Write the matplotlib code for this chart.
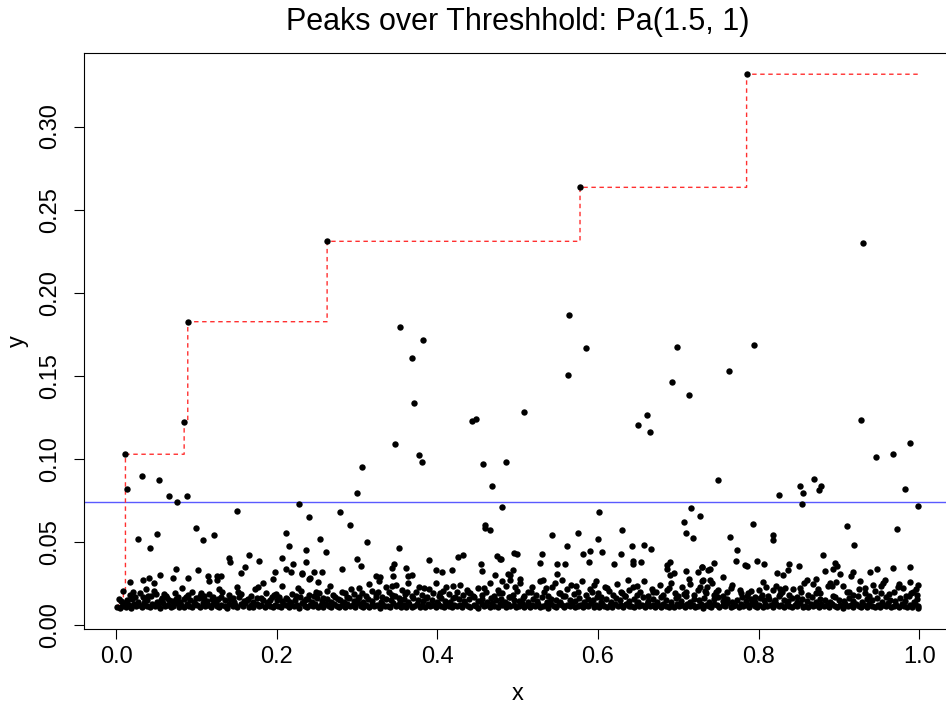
import numpy as np
import matplotlib
matplotlib.use("Agg")
import matplotlib.pyplot as plt

plt.rcParams["font.family"] = ["Liberation Sans", "DejaVu Sans"]

# points; band lists are (x * 1000, y * 10000)
low_band = [
    (1, 107), (5, 104), (7, 113), (10, 131), (12, 109), (16, 118), (19, 104), (22, 127), (25, 112), (29, 121),
    (32, 106), (35, 133), (38, 115), (42, 108), (45, 125), (48, 111), (52, 119), (55, 104), (58, 129), (61, 113),
    (65, 122), (68, 107), (71, 116), (75, 131), (78, 110), (81, 120), (85, 105), (88, 126), (91, 114), (95, 109),
    (98, 123), (101, 117), (105, 106), (108, 130), (111, 112), (115, 120), (118, 105), (121, 127), (125, 113), (128, 108),
    (131, 122), (135, 116), (138, 104), (141, 128), (145, 111), (148, 119), (151, 107), (155, 125), (158, 113), (161, 132),
    (165, 109), (168, 118), (171, 106), (175, 124), (178, 112), (181, 120), (185, 105), (188, 129), (191, 115), (195, 109),
    (198, 122), (201, 113), (205, 106), (208, 127), (211, 117), (215, 108), (218, 124), (221, 111), (225, 119), (228, 104),
    (231, 130), (235, 114), (238, 107), (241, 121), (245, 112), (248, 126), (251, 105), (255, 117), (258, 109), (261, 123),
    (265, 113), (268, 106), (271, 128), (275, 116), (278, 110), (281, 120), (285, 105), (288, 125), (291, 112), (295, 118),
    (298, 107), (301, 131), (305, 114), (308, 109), (311, 122), (315, 106), (318, 127), (321, 113), (325, 119), (328, 104),
    (331, 124), (335, 111), (338, 116), (341, 108), (345, 129), (348, 113), (351, 121), (355, 106), (358, 118), (361, 110),
    (365, 126), (368, 105), (371, 115), (375, 123), (378, 109), (381, 117), (385, 106), (388, 128), (391, 112), (395, 120),
    (398, 107), (401, 124), (405, 114), (408, 109), (411, 130), (415, 116), (418, 105), (421, 122), (425, 111), (428, 119),
    (431, 107), (435, 127), (438, 113), (441, 108), (445, 121), (448, 116), (451, 104), (455, 125), (458, 112), (461, 118),
    (465, 106), (468, 131), (471, 114), (475, 109), (478, 123), (481, 117), (485, 106), (488, 126), (491, 111), (495, 120),
    (498, 108), (501, 115), (505, 129), (508, 110), (511, 122), (515, 105), (518, 118), (521, 112), (525, 125), (528, 107),
    (531, 116), (535, 121), (538, 104), (541, 128), (545, 113), (548, 109), (551, 124), (555, 117), (558, 106), (561, 120),
    (565, 111), (568, 127), (571, 108), (575, 115), (578, 122), (581, 105), (585, 119), (588, 112), (591, 130), (595, 109),
    (598, 117), (601, 106), (605, 124), (608, 114), (611, 110), (615, 121), (618, 107), (621, 126), (625, 113), (628, 118),
    (631, 105), (635, 123), (638, 111), (641, 116), (645, 108), (648, 129), (651, 114), (655, 120), (658, 106), (661, 125),
    (665, 112), (668, 117), (671, 109), (675, 122), (678, 105), (681, 127), (685, 115), (688, 110), (691, 119), (695, 107),
    (698, 124), (701, 113), (705, 118), (708, 106), (711, 128), (715, 111), (718, 121), (721, 108), (725, 116), (728, 125),
    (731, 104), (735, 119), (738, 113), (741, 109), (745, 126), (748, 117), (751, 106), (755, 122), (758, 112), (761, 130),
    (765, 108), (768, 115), (771, 120), (775, 105), (778, 127), (781, 111), (785, 118), (788, 107), (791, 123), (795, 114),
    (798, 109), (801, 121), (805, 106), (808, 128), (811, 113), (815, 117), (818, 105), (821, 124), (825, 111), (828, 119),
    (831, 108), (835, 126), (838, 115), (841, 106), (845, 120), (848, 112), (851, 129), (855, 109), (858, 116), (861, 105),
    (865, 123), (868, 113), (871, 119), (875, 107), (878, 125), (881, 111), (885, 117), (888, 106), (891, 128), (895, 114),
    (898, 109), (901, 121), (905, 104), (908, 126), (911, 112), (915, 118), (918, 107), (921, 124), (925, 113), (928, 110),
    (931, 120), (935, 106), (938, 127), (941, 115), (945, 109), (948, 122), (951, 105), (955, 118), (958, 112), (961, 130),
    (965, 108), (968, 116), (971, 121), (975, 106), (978, 125), (981, 113), (985, 109), (988, 119), (991, 107), (995, 123),
    (998, 111),
]

low_top = [
    (14, 142), (20, 158), (27, 139), (33, 166), (39, 147), (44, 171), (51, 138), (56, 152), (63, 163), (69, 141),
    (74, 156), (80, 137), (87, 168), (92, 149), (97, 140), (103, 160), (109, 173), (113, 144), (119, 154), (124, 139),
    (130, 165), (136, 148), (142, 158), (147, 137), (153, 170), (159, 145), (164, 155), (170, 140), (176, 162), (183, 149),
    (189, 138), (194, 167), (200, 152), (206, 143), (212, 161), (217, 136), (223, 150), (229, 169), (234, 141), (239, 157),
    (244, 138), (250, 163), (256, 146), (262, 156), (267, 137), (273, 168), (279, 148), (284, 140), (290, 159), (296, 145),
    (302, 170), (307, 139), (313, 153), (319, 144), (324, 165), (330, 138), (336, 157), (342, 147), (347, 172), (353, 140),
    (359, 155), (364, 137), (370, 163), (376, 149), (382, 142), (387, 168), (393, 151), (399, 139), (404, 160), (410, 145),
    (416, 137), (422, 166), (427, 153), (433, 141), (439, 158), (444, 172), (450, 143), (456, 155), (462, 138), (467, 164),
    (473, 147), (479, 157), (484, 139), (490, 169), (496, 150), (502, 142), (507, 161), (513, 137), (519, 154), (524, 146),
    (530, 167), (536, 140), (542, 158), (548, 148), (553, 138), (559, 171), (565, 151), (571, 143), (576, 162), (582, 139),
    (588, 156), (594, 147), (599, 166), (604, 140), (610, 153), (616, 137), (622, 160), (627, 149), (633, 172), (639, 142),
    (645, 157), (650, 138), (656, 165), (662, 146), (668, 155), (674, 140), (679, 168), (685, 150), (691, 139), (697, 161),
    (703, 145), (709, 173), (714, 137), (720, 156), (726, 148), (732, 164), (738, 140), (744, 153), (749, 170), (755, 143),
    (761, 158), (767, 138), (773, 149), (779, 166), (784, 141), (790, 155), (796, 137), (802, 163), (807, 147), (813, 158),
    (819, 140), (825, 171), (831, 150), (837, 142), (842, 161), (848, 137), (854, 154), (860, 146), (866, 168), (871, 139),
    (877, 157), (883, 148), (889, 137), (895, 165), (900, 152), (906, 141), (912, 160), (918, 145), (924, 172), (929, 138),
    (935, 156), (941, 147), (947, 163), (953, 140), (958, 169), (964, 151), (970, 142), (976, 160), (982, 146), (987, 171),
    (993, 139), (997, 157),
]

mid_extra = [
    (21, 196), (37, 214), (60, 188), (82, 221), (106, 193), (128, 218), (152, 199), (177, 228), (199, 186), (226, 221),
    (249, 197), (266, 231), (285, 189), (303, 220), (326, 198), (343, 232), (362, 195), (383, 222), (403, 191), (420, 236),
    (438, 199), (458, 224), (477, 192), (497, 230), (516, 200), (535, 219), (553, 194), (572, 233), (592, 198), (611, 221),
    (630, 190), (649, 235), (669, 199), (688, 222), (707, 186), (727, 229), (747, 197), (766, 220), (787, 192), (809, 226),
    (829, 196), (851, 219), (872, 193), (891, 231), (913, 195), (933, 220), (952, 190), (973, 228), (992, 198),
]

mid_band = [
    (3, 155), (6, 142), (9, 205), (14, 147), (17, 178), (24, 165), (30, 192), (36, 152), (40, 171), (47, 205),
    (50, 184), (57, 160), (62, 175), (66, 148), (73, 190), (77, 167), (84, 153), (90, 182), (95, 200), (100, 162),
    (104, 176), (110, 149), (116, 187), (121, 170), (127, 155), (132, 196), (140, 178), (146, 160), (150, 226), (156, 186),
    (163, 152), (168, 174), (173, 215), (180, 163), (186, 190), (192, 150), (197, 177), (203, 168), (207, 232), (213, 155),
    (219, 185), (224, 171), (230, 203), (236, 158), (240, 180),
    (246, 172), (252, 190), (258, 160), (263, 205), (270, 180), (276, 155), (281, 198), (287, 168), (292, 214), (296, 184),
    (301, 160), (306, 193), (311, 176), (315, 248), (319, 205), (323, 186), (327, 262), (331, 170), (336, 225), (340, 195),
    (344, 178), (348, 240), (352, 160), (356, 210), (360, 186), (364, 252), (368, 172), (373, 200), (377, 228), (381, 182),
    (386, 164), (390, 215), (394, 190), (398, 250), (402, 175), (407, 205), (411, 230), (415, 185), (419, 162), (424, 198),
    (428, 240), (432, 178), (437, 212), (441, 190), (446, 170), (450, 220), (455, 182), (460, 200), (465, 250), (470, 175),
    (475, 210), (480, 190), (485, 232), (489, 168),
    (494, 182), (499, 205), (503, 250), (508, 172), (513, 195), (518, 230), (523, 180), (528, 262), (533, 200), (538, 176),
    (543, 225), (547, 250), (552, 190), (556, 172), (561, 215), (566, 238), (570, 185), (575, 200), (580, 262), (585, 178),
    (590, 215), (595, 240), (600, 190), (604, 170), (609, 225), (614, 205), (619, 180), (624, 248), (628, 195), (633, 175),
    (638, 210), (643, 230), (648, 182), (652, 200), (657, 262), (662, 176), (667, 218), (672, 195), (677, 240), (681, 180),
    (686, 210), (691, 252), (696, 190), (700, 172), (705, 226), (710, 198), (715, 245), (720, 180), (725, 210), (730, 262),
    (735, 190),
    (745, 180), (750, 210), (756, 172), (761, 195), (778, 190), (785, 175), (790, 205), (795, 168), (826, 188), (838, 180),
    (848, 170), (853, 200), (862, 182), (877, 190), (893, 176), (910, 200), (918, 180), (932, 192), (938, 172), (945, 205),
    (962, 186), (968, 200), (983, 176), (990, 190),
]

upper_band = [
    (42, 462), (140, 402), (142, 376), (166, 422), (178, 386), (161, 351), (155, 312), (102, 332), (74, 336), (55, 299),
    (34, 267), (41, 279), (17, 257), (47, 251), (71, 281), (90, 279), (114, 295), (126, 295), (130, 291), (116, 261),
    (125, 267), (198, 315), (212, 336), (218, 315), (206, 402), (220, 368), (232, 312), (240, 273), (195, 275), (183, 251),
    (215, 476), (237, 448),
    (261, 440), (312, 499), (352, 460), (237, 376), (232, 308), (246, 316), (242, 280), (256, 320), (251, 259), (300, 396),
    (305, 356), (281, 336), (346, 364), (343, 342), (361, 342), (363, 296), (369, 298), (390, 388), (398, 328), (406, 316),
    (418, 328), (426, 408), (432, 422), (454, 364), (455, 324), (474, 412), (479, 398), (472, 302), (480, 265), (488, 308),
    (324, 296), (329, 286), (345, 292),
    (562, 477), (495, 430), (499, 428), (530, 426), (581, 426), (590, 442), (589, 380), (605, 438), (628, 428), (642, 472),
    (657, 483), (666, 456), (620, 364), (643, 386), (643, 364), (654, 376), (528, 370), (549, 366), (559, 366), (478, 396),
    (686, 362), (690, 380), (686, 338), (694, 312), (690, 300), (710, 324), (713, 275), (724, 316), (729, 346), (737, 328),
    (494, 328), (491, 302), (491, 272), (503, 275), (549, 308), (532, 272), (555, 272), (598, 262), (637, 272),
    (818, 509), (919, 483), (773, 452), (880, 422), (772, 386), (783, 362), (785, 352), (798, 386), (807, 364), (744, 370),
    (739, 336), (730, 348), (838, 364), (836, 332), (830, 302), (823, 312), (850, 352), (895, 372), (898, 352), (892, 336),
    (901, 308), (882, 322), (918, 316), (915, 292), (939, 316), (947, 336), (967, 342), (989, 346), (755, 286), (767, 241),
    (777, 211), (805, 255), (801, 211), (860, 267), (857, 251), (871, 275), (868, 247), (874, 215), (889, 251), (886, 231),
    (896, 255), (905, 231), (926, 265), (925, 217), (957, 271), (955, 251), (943, 241), (952, 235), (975, 245), (980, 221),
    (988, 255), (998, 241), (996, 215), (997, 181), (731, 271), (740, 271), (742, 251), (736, 227), (733, 201), (822, 231),
    (827, 215), (818, 207), (833, 221), (843, 215), (804, 181), (812, 171), (820, 151), (999, 101),
]

high_pts = [
    (0.0116, 0.1027), (0.0137, 0.0816), (0.0328, 0.0898), (0.0535, 0.0872), (0.0656, 0.0774), (0.0764, 0.0737),
    (0.0847, 0.1219), (0.0888, 0.0778), (0.0892, 0.1825), (0.0996, 0.0585), (0.0506, 0.0547), (0.0278, 0.0518),
    (0.1080, 0.0512), (0.1224, 0.0543), (0.1500, 0.0685), (0.2116, 0.0550), (0.2274, 0.0729), (0.2407, 0.0647),
    (0.2536, 0.0517), (0.2627, 0.2309), (0.2785, 0.0679), (0.2913, 0.0603), (0.2996, 0.0794), (0.3058, 0.0951),
    (0.3473, 0.1089), (0.3535, 0.1792), (0.3685, 0.1609), (0.3714, 0.1334), (0.3776, 0.1021), (0.3805, 0.0978),
    (0.3826, 0.1716), (0.4436, 0.1230), (0.4478, 0.1238), (0.4565, 0.0966), (0.4685, 0.0834), (0.4805, 0.0709),
    (0.4855, 0.0983), (0.5083, 0.1282), (0.4594, 0.0601), (0.4590, 0.0585), (0.4656, 0.0571), (0.5424, 0.0541),
    (0.5622, 0.1505), (0.5643, 0.1863), (0.5755, 0.0550), (0.5776, 0.2634), (0.5855, 0.1668), (0.5996, 0.0518),
    (0.6013, 0.0681), (0.6295, 0.0568), (0.6494, 0.1201), (0.6610, 0.1266), (0.6648, 0.1159), (0.6917, 0.1459),
    (0.6984, 0.1670), (0.7075, 0.0617), (0.7096, 0.0555), (0.7137, 0.1382), (0.7154, 0.0705), (0.7183, 0.0524),
    (0.7274, 0.0653), (0.7494, 0.0870), (0.7627, 0.1527), (0.7644, 0.0529), (0.7850, 0.3315), (0.7926, 0.0609),
    (0.7939, 0.1686), (0.8175, 0.0538), (0.8257, 0.0779), (0.8515, 0.0834), (0.8536, 0.0729), (0.8556, 0.0796),
    (0.8685, 0.0876), (0.8755, 0.0812), (0.8776, 0.0834), (0.9096, 0.0597), (0.9274, 0.1236), (0.9295, 0.2297),
    (0.9457, 0.1009), (0.9676, 0.1031), (0.9722, 0.0579), (0.9826, 0.0816), (0.9888, 0.1095), (0.9984, 0.0716),
]

threshold = 0.0737
x_ticks = [0.0, 0.2, 0.4, 0.6, 0.8, 1.0]
y_ticks = [0.00, 0.05, 0.10, 0.15, 0.20, 0.25, 0.30]

band = np.array(low_band + low_top + mid_extra + mid_band + upper_band, dtype=float)
hp = np.array(high_pts)
x = np.concatenate([band[:, 0] / 1000, hp[:, 0]])
y = np.concatenate([band[:, 1] / 10000, hp[:, 1]])
order = np.argsort(x, kind="stable")
x, y = x[order], y[order]
running_max = np.maximum.accumulate(y)

fig = plt.figure(figsize=(9.46, 7.08), dpi=100)
ax = fig.add_axes([84 / 946, 1 - 629.3 / 708, 867.4 / 946, 576 / 708])

ax.plot(x, running_max, drawstyle="steps-post", color="#ff3030", lw=1.0,
        dashes=(3.2, 2.6), zorder=2)
ax.axhline(threshold, color="#5a5aff", lw=1.0, zorder=1)
ax.plot(x, y, "o", color="black", markersize=4.6, markeredgewidth=0, zorder=3)

ax.set_xlim(-0.04, 1.04)
ax.set_ylim(-0.0027, 0.3441)
ax.set_xticks(x_ticks)
ax.set_xticklabels(["0.0", "0.2", "0.4", "0.6", "0.8", "1.0"])
ax.set_yticks(y_ticks)
ax.set_yticklabels(["0.00", "0.05", "0.10", "0.15", "0.20", "0.25", "0.30"],
                   rotation=90, va="center")
ax.tick_params(axis="both", length=7.2, width=0.8, labelsize=17)
ax.tick_params(axis="x", pad=5)
ax.tick_params(axis="y", pad=9)
for s in ax.spines.values():
    s.set_linewidth(0.8)

fig.text(517.7 / 946, 1 - 30 / 708, "Peaks over Threshhold: Pa(1.5, 1)",
         ha="center", va="baseline", fontsize=22)
fig.text(517.7 / 946, 1 - 694 / 708, "x", ha="center", va="center", fontsize=17)
fig.text(18 / 946, 1 - 341 / 708, "y", ha="center", va="center", fontsize=17, rotation=90)

fig.savefig("out.png", dpi=100)
